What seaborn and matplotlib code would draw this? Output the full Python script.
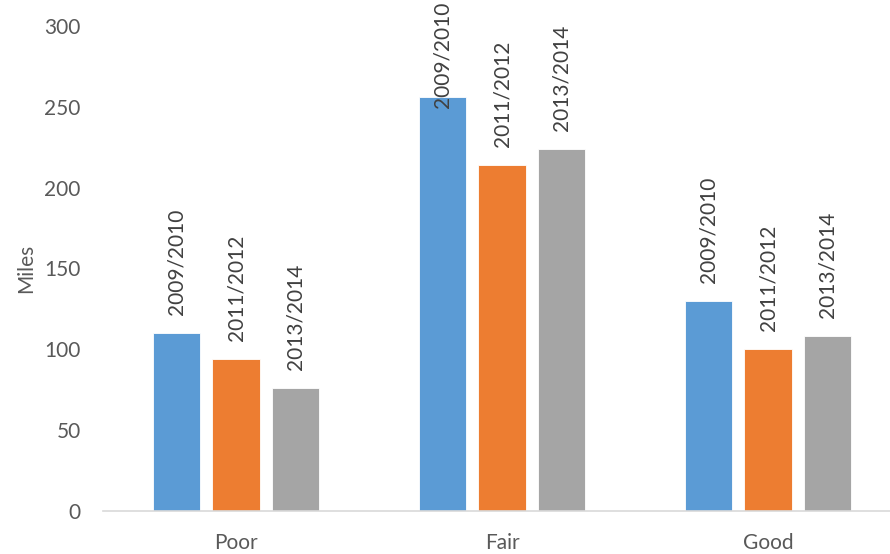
import matplotlib
matplotlib.use("Agg")
import matplotlib.pyplot as plt
import seaborn as sns
import pandas as pd

# data
categories = ["Poor", "Fair", "Good"]
periods = ["2009/2010", "2011/2012", "2013/2014"]
miles_0910 = [110, 256, 130]
miles_1112 = [94, 214, 100]
miles_1314 = [76, 224, 108]

colors = ["#5B9BD5", "#ED7D31", "#A5A5A5"]
text_col = "#595959"

df = pd.DataFrame({
    "condition": categories * 3,
    "period": [p for p in periods for _ in categories],
    "miles": miles_0910 + miles_1112 + miles_1314,
})

sns.set_style("white")
plt.rcParams["font.family"] = ["Lato", "DejaVu Sans"]

fig = plt.figure(figsize=(8.9, 5.54), dpi=100)
ax = fig.add_axes([103 / 890, 43 / 554, 798 / 890, 485 / 554])

sns.barplot(data=df, x="condition", y="miles", hue="period", order=categories,
            hue_order=periods, palette=colors, saturation=1, width=0.67, gap=0.2,
            edgecolor="white", linewidth=0.6, legend=False, ax=ax)

ax.set_xlim(-0.5, 2.5)
ax.set_ylim(0, 300)
ax.set_yticks(range(0, 301, 50))
ax.set_xlabel("")
ax.set_ylabel("Miles", fontsize=15, color=text_col, labelpad=6)
ax.tick_params(axis="both", length=0, labelsize=15, labelcolor=text_col)
ax.tick_params(axis="y", pad=16)
ax.tick_params(axis="x", pad=16)
for s in ["left", "right", "top"]:
    ax.spines[s].set_visible(False)
ax.spines["bottom"].set_color("#D9D9D9")
ax.spines["bottom"].set_linewidth(1.2)

# rotated series-name labels above each bar
for container, name in zip(ax.containers, periods):
    for bar in container:
        x = bar.get_x() + bar.get_width() / 2
        h = bar.get_height()
        if h > 240:
            ax.text(x, 315, name, rotation=90, ha="center", va="top",
                    fontsize=15, color="#404040", clip_on=False)
        else:
            ax.annotate(name, (x, h), xytext=(0, 13), textcoords="offset points",
                        rotation=90, ha="center", va="bottom",
                        fontsize=15, color="#404040", annotation_clip=False)

fig.savefig("out.png", dpi=100)
